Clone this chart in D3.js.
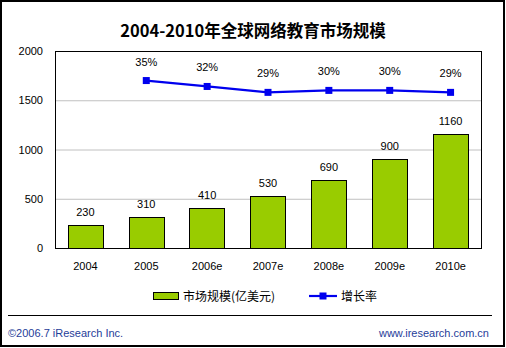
<!DOCTYPE html>
<html><head><meta charset="utf-8">
<script src="https://cdn.jsdelivr.net/npm/d3@7/dist/d3.min.js"></script>
<style>
html,body{margin:0;padding:0;background:#fff;}
svg{display:block;}
</style></head>
<body>
<svg id="c" width="506" height="348"></svg>
<script>
const categories = ["2004","2005","2006e","2007e","2008e","2009e","2010e"];
const marketSize = [230,310,410,530,690,900,1160];
const growthRate = [null,0.35,0.32,0.29,0.30,0.30,0.29];
const growthLabels = ["","35%","32%","29%","30%","30%","29%"];
const yTicks = [0,500,1000,1500,2000];

const svg = d3.select("#c");
const W = 506, H = 348;
const plot = {l:55, r:481, t:51, b:248};
const numFont = "'Liberation Sans', Arial, sans-serif";
const cjkFont = "'Noto Sans CJK SC', sans-serif";

// outer border
svg.append("rect").attr("x",1).attr("y",1).attr("width",W-3).attr("height",H-3)
  .attr("fill","#fff").attr("stroke","#000").attr("stroke-width",2);

// title
svg.append("text").attr("x",253).attr("y",37).attr("text-anchor","middle")
  .attr("font-family",cjkFont).attr("font-weight","bold").attr("font-size",16.5)
  .attr("fill","#000").text("2004-2010年全球网络教育市场规模");

const x = d3.scaleBand().domain(categories).range([plot.l, plot.r]).paddingInner(0.42).paddingOuter(0.21);
const xc = d3.scaleBand().domain(categories).range([plot.l, plot.r]);
const y = d3.scaleLinear().domain([0,2000]).range([plot.b, plot.t]);
const y2 = d3.scaleLinear().domain([-0.5,0.5]).range([plot.b, plot.t]);

// gridlines
svg.append("g").selectAll("line").data(yTicks.filter(d=>d>0&&d<2000)).join("line")
  .attr("x1",plot.l).attr("x2",plot.r).attr("y1",d=>y(d)+0.5).attr("y2",d=>y(d)+0.5)
  .attr("stroke","#c0c0c0").attr("stroke-width",1);

// y axis labels
const yAxis = d3.axisLeft(y).tickValues(yTicks).tickFormat(d3.format("d")).tickSize(0).tickPadding(12);
const gy = svg.append("g").attr("transform",`translate(${plot.l},0)`).call(yAxis);
gy.select(".domain").remove();
gy.selectAll("text").attr("font-family",numFont).attr("font-size",11).attr("fill","#000");

// x axis labels
const xAxis = d3.axisBottom(xc).tickSize(0).tickPadding(14);
const gx = svg.append("g").attr("transform",`translate(0,${plot.b})`).call(xAxis);
gx.select(".domain").remove();
gx.selectAll("text").attr("font-family",numFont).attr("font-size",11).attr("fill","#000");

// bars
svg.append("g").selectAll("rect").data(marketSize).join("rect")
  .attr("x",(d,i)=>Math.round(x(categories[i]))+0.5)
  .attr("y",d=>Math.round(y(d))+0.5)
  .attr("width",Math.round(x.bandwidth()))
  .attr("height",d=>Math.round(plot.b - y(d)))
  .attr("fill","#99cc00").attr("stroke","#000").attr("stroke-width",1);

// bar labels
svg.append("g").selectAll("text").data(marketSize).join("text")
  .attr("x",(d,i)=>xc(categories[i])+xc.bandwidth()/2)
  .attr("y",d=>y(d)-9)
  .attr("text-anchor","middle").attr("font-family",numFont).attr("font-size",11)
  .attr("fill","#000").text(d=>d);

// plot frame
svg.append("rect").attr("x",plot.l+0.5).attr("y",plot.t+0.5)
  .attr("width",plot.r-plot.l).attr("height",plot.b-plot.t)
  .attr("fill","none").attr("stroke","#000").attr("stroke-width",1);

// growth line
const pts = growthRate.map((v,i)=>({v,i})).filter(d=>d.v!==null);
const line = d3.line().x(d=>xc(categories[d.i])+xc.bandwidth()/2).y(d=>y2(d.v));
svg.append("path").datum(pts).attr("d",line).attr("fill","none")
  .attr("stroke","#0000ee").attr("stroke-width",2.2);
svg.append("g").selectAll("rect").data(pts).join("rect")
  .attr("x",d=>xc(categories[d.i])+xc.bandwidth()/2-3.5)
  .attr("y",d=>y2(d.v)-3.5).attr("width",7).attr("height",7).attr("fill","#0000ee");
svg.append("g").selectAll("text").data(pts).join("text")
  .attr("x",d=>xc(categories[d.i])+xc.bandwidth()/2)
  .attr("y",d=>y2(d.v)-15)
  .attr("text-anchor","middle").attr("font-family",numFont).attr("font-size",11)
  .attr("fill","#000").text(d=>growthLabels[d.i]);

// legend
const lg = svg.append("g");
lg.append("rect").attr("x",153.5).attr("y",292.5).attr("width",25).attr("height",7)
  .attr("fill","#99cc00").attr("stroke","#000");
lg.append("text").attr("x",183).attr("y",301).attr("font-family",cjkFont).attr("font-size",12)
  .attr("fill","#000").text("市场规模(亿美元)");
lg.append("line").attr("x1",309).attr("x2",337).attr("y1",296).attr("y2",296)
  .attr("stroke","#0000ee").attr("stroke-width",2.2);
lg.append("rect").attr("x",319.5).attr("y",292.5).attr("width",7).attr("height",7).attr("fill","#0000ee");
lg.append("text").attr("x",341).attr("y",301).attr("font-family",cjkFont).attr("font-size",12)
  .attr("fill","#000").text("增长率");

// footer
svg.append("line").attr("x1",8).attr("x2",492).attr("y1",315.5).attr("y2",315.5)
  .attr("stroke","#000").attr("stroke-width",1);
svg.append("text").attr("x",8).attr("y",337).attr("font-family",numFont).attr("font-size",11)
  .attr("fill","#1f3d99").text("©2006.7 iResearch Inc.");
svg.append("text").attr("x",489).attr("y",337).attr("text-anchor","end").attr("font-family",numFont).attr("font-size",11)
  .attr("fill","#1f3d99").text("www.iresearch.com.cn");
</script>
</body></html>
